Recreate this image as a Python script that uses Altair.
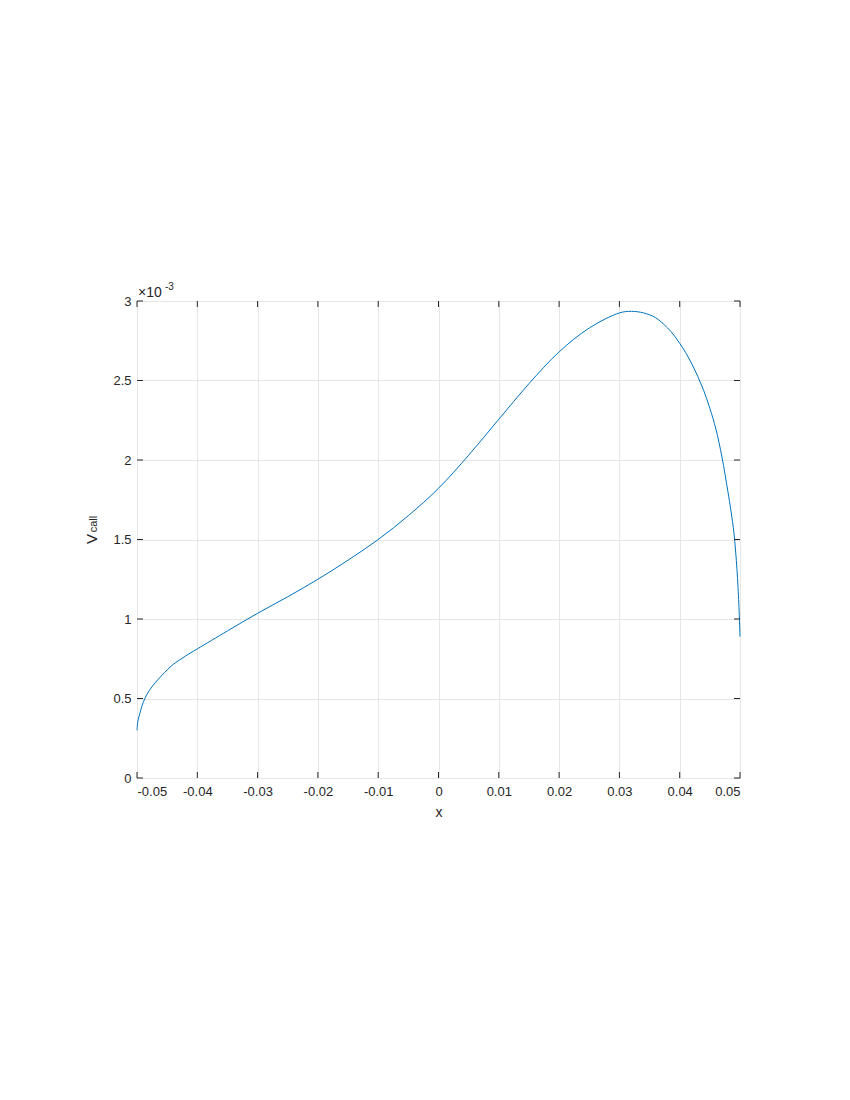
import altair as alt
import pandas as pd

# curve values (V_call in units of 1e-3)
xs = [-0.05, -0.0499, -0.0498, -0.0497, -0.0495, -0.0492, -0.0487, -0.048, -0.047,
      -0.045, -0.044, -0.042, -0.04, -0.035, -0.03, -0.025, -0.02, -0.015, -0.01,
      -0.005, 0.0, 0.005, 0.01, 0.015, 0.02, 0.025, 0.03, 0.032, 0.034,
      0.036, 0.038, 0.039, 0.04, 0.041, 0.042, 0.043, 0.044, 0.045, 0.046,
      0.047, 0.048, 0.0485, 0.049, 0.0495, 0.0498, 0.0499, 0.05]
vs = [0.30, 0.345, 0.366, 0.382, 0.41, 0.45, 0.50, 0.548, 0.598,
      0.68, 0.714, 0.766, 0.812, 0.925, 1.036, 1.14, 1.25, 1.37, 1.50,
      1.65, 1.822, 2.03, 2.256, 2.48, 2.68, 2.83, 2.925, 2.935, 2.925,
      2.895, 2.83, 2.787, 2.734, 2.675, 2.605, 2.525, 2.435, 2.325, 2.195,
      2.02, 1.80, 1.68, 1.54, 1.31, 1.10, 1.0, 0.889]

xticks = [-0.05, -0.04, -0.03, -0.02, -0.01, 0.0, 0.01, 0.02, 0.03, 0.04, 0.05]
yticks = [0, 0.5, 1, 1.5, 2, 2.5, 3]

W, H = 603, 477
xmin, xmax, ymin, ymax = -0.05, 0.05, 0.0, 3.0
tlen_y = 6 / H * (ymax - ymin)
tlen_x = 6 / W * (xmax - xmin)

AX = "#262626"
FONT = "Liberation Sans"

curve = pd.DataFrame({"x": xs, "v": vs})

xscale = alt.Scale(domain=[xmin, xmax], nice=False, zero=False)
yscale = alt.Scale(domain=[ymin, ymax], nice=False, zero=False)

base = alt.Chart(curve).mark_line(color="#0072BD", strokeWidth=1, interpolate="catmull-rom").encode(
    x=alt.X("x:Q", scale=xscale, title="x",
            axis=alt.Axis(values=xticks, grid=True, ticks=False, domain=False,
                          labelExpr="datum.value == 0 ? '0' : (datum.value < 0 ? '-' : '') + format(abs(datum.value), '.2f')",
                          labelPadding=7, titlePadding=7)),
    y=alt.Y("v:Q", scale=yscale, title=None,
            axis=alt.Axis(values=yticks, grid=True, ticks=False, domain=False,
                          labelExpr="datum.value + ''", labelPadding=6)),
)

# tick marks (inward, on all four sides)
xt_rows = []
for t in xticks:
    xt_rows.append({"x": t, "y0": ymin, "y1": ymin + tlen_y})
    xt_rows.append({"x": t, "y0": ymax, "y1": ymax - tlen_y})
yt_rows = []
for t in yticks:
    yt_rows.append({"y": t, "x0": xmin, "x1": xmin + tlen_x})
    yt_rows.append({"y": t, "x0": xmax, "x1": xmax - tlen_x})

xtick_layer = alt.Chart(pd.DataFrame(xt_rows)).mark_rule(color=AX, strokeWidth=1).encode(
    x=alt.X("x:Q", scale=xscale), y=alt.Y("y0:Q", scale=yscale), y2="y1:Q")
ytick_layer = alt.Chart(pd.DataFrame(yt_rows)).mark_rule(color=AX, strokeWidth=1).encode(
    y=alt.Y("y:Q", scale=yscale), x=alt.X("x0:Q", scale=xscale), x2="x1:Q")

# exponent label x10^-3
exp_main = alt.Chart(pd.DataFrame({"x": [xmin], "v": [ymax]})).mark_text(
    text="×10", align="left", baseline="alphabetic", dx=1, dy=-4, fontSize=14, font=FONT, color=AX
).encode(x=alt.X("x:Q", scale=xscale), y=alt.Y("v:Q", scale=yscale))
exp_sup = alt.Chart(pd.DataFrame({"x": [xmin], "v": [ymax]})).mark_text(
    text="-3", align="left", baseline="alphabetic", dx=28, dy=-11, fontSize=10, font=FONT, color=AX
).encode(x=alt.X("x:Q", scale=xscale), y=alt.Y("v:Q", scale=yscale))

# y-axis label V_call (rotated)
ylab_v = alt.Chart(pd.DataFrame({"a": [0]})).mark_text(
    text="V", angle=270, align="center", baseline="middle", fontSize=15, font=FONT, color=AX
).encode(x=alt.value(-45.5), y=alt.value(238))
ylab_sub = alt.Chart(pd.DataFrame({"a": [0]})).mark_text(
    text="call", angle=270, align="center", baseline="middle", fontSize=11, font=FONT, color=AX
).encode(x=alt.value(-43), y=alt.value(223))

chart = alt.layer(base, xtick_layer, ytick_layer, exp_main, exp_sup, ylab_v, ylab_sub).properties(
    width=W, height=H,
    autosize=alt.AutoSizeParams(type="none"),
    padding={"left": 129, "top": 293, "right": 90, "bottom": 280},
).configure_view(stroke=AX, strokeWidth=1).configure_axis(
    gridColor="#e6e6e6", gridWidth=1, gridOpacity=1,
    labelFont=FONT, labelFontSize=13, labelColor=AX,
    titleFont=FONT, titleFontSize=14, titleColor=AX, titleFontWeight="normal",
)

chart.save("out.html", embed_options={"renderer": "svg", "actions": False})
